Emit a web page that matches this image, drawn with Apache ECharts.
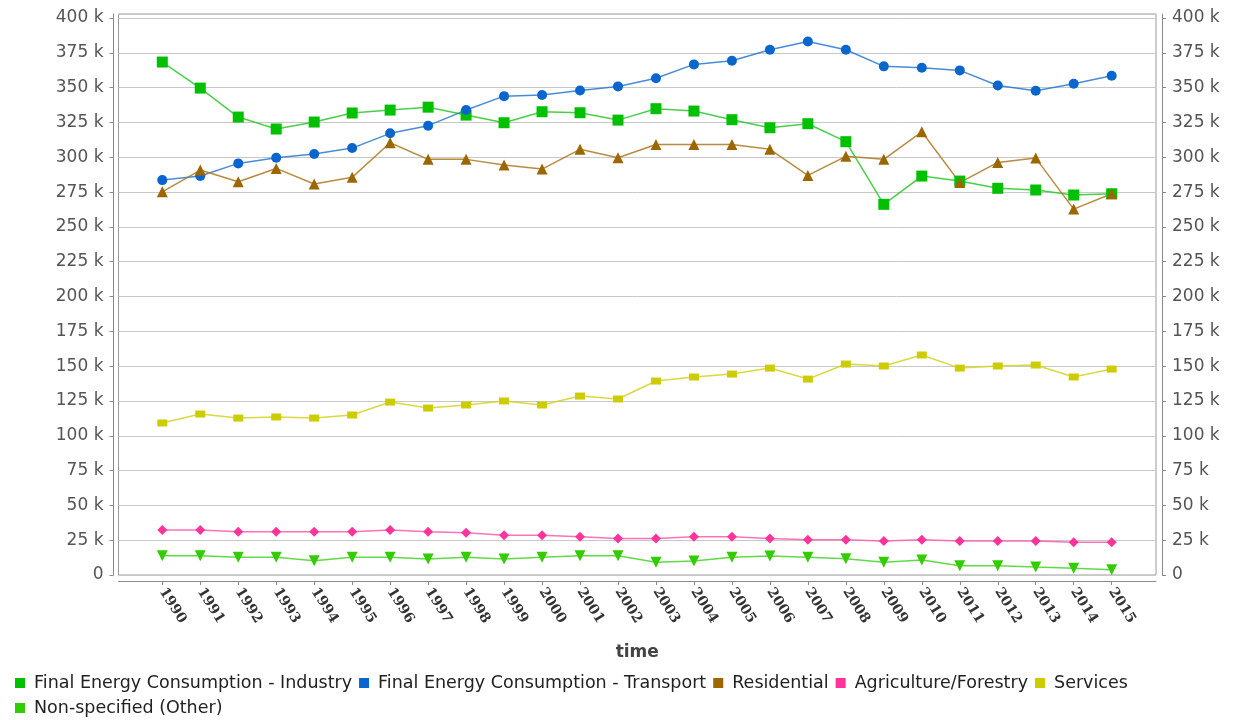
<!DOCTYPE html>
<html>
<head>
<meta charset="utf-8">
<script src="https://cdn.jsdelivr.net/npm/echarts@6/dist/echarts.min.js"></script>
<style>html,body{margin:0;padding:0;background:#fff}#c{width:1233px;height:720px}</style>
</head>
<body>
<div id="c"></div>
<script>
const years = [1990,1991,1992,1993,1994,1995,1996,1997,1998,1999,2000,2001,2002,2003,2004,2005,2006,2007,2008,2009,2010,2011,2012,2013,2014,2015];
const industry = [368400,349700,328900,320300,325300,331800,333900,336000,330300,324800,332700,332000,326700,334900,333200,327000,321200,324100,311200,266200,286500,282900,277700,276500,272900,273800];
const transport = [283600,286500,295600,299700,302300,306600,317200,322700,333900,343900,344700,348000,350900,356700,366700,369300,377200,383200,377200,365300,364300,362400,351600,347800,352800,358600];
const residential = [275200,290800,282400,292000,280800,285600,310400,298500,298500,294400,291500,305700,299700,309200,309200,309200,305700,287000,300700,298500,318300,281800,296300,299400,262800,273800];
const agriculture = [32300,32300,31100,31100,31100,31100,32300,31100,30400,28500,28500,27500,26300,26300,27500,27500,26300,25400,25400,24400,25400,24400,24400,24400,23500,23500];
const services = [109200,115600,112700,113500,112700,114900,124200,119900,122100,125000,122100,128500,126400,139300,142200,144300,148600,140700,151500,150100,158000,148600,150100,150800,142200,147900];
const nonSpecified = [13900,13900,12700,12700,10300,12700,12700,11500,12700,11500,12700,13900,13900,9100,10100,12700,13600,12700,11700,9100,10800,6700,6700,5700,4800,3800];
const seriesNames = ['Final Energy Consumption - Industry','Final Energy Consumption - Transport','Residential','Agriculture/Forestry','Services','Non-specified (Other)'];

const pairs = arr => years.map((y, i) => [y, arr[i]]);
const yFmt = v => v === 0 ? '0' : (v / 1000) + ' k';

function mk(name, data, color, lineColor, symbol, size, rotate) {
  return {
    name, type: 'line', data: pairs(data),
    symbol, symbolSize: size, symbolRotate: rotate || 0,
    itemStyle: { color },
    lineStyle: { color: lineColor, width: 1.5 },
    emphasis: { disabled: true },
    animation: false, z: 3
  };
}

const yAxisCommon = {
  type: 'value', min: 0, max: 402900, interval: 25000,
  axisLine: { show: true, lineStyle: { color: '#8a8a8a', width: 1 } },
  axisTick: { show: true, length: 4, lineStyle: { color: '#8a8a8a' } },
  axisLabel: { formatter: yFmt, color: '#555', fontSize: 17, fontFamily: 'DejaVu Sans', margin: 10, showMaxLabel: false },
  splitLine: { show: true, lineStyle: { color: '#c8c8c8', width: 1 } }
};

const chart = echarts.init(document.getElementById('c'), null, { renderer: 'canvas' });
chart.setOption({
  backgroundColor: '#fff',
  animation: false,
  grid: { left: 118.5, right: 77, top: 14, bottom: 145, show: true, borderColor: '#9a9a9a', borderWidth: 1, backgroundColor: '#fff' },
  xAxis: {
    type: 'value', min: 1988.847, max: 2016.167,
    offset: 6,
    name: 'time', nameLocation: 'middle', nameGap: 63,
    nameTextStyle: { fontFamily: 'DejaVu Sans', fontWeight: 'bold', fontSize: 17, color: '#444' },
    axisLine: { show: true, onZero: false, lineStyle: { color: '#8a8a8a' } },
    axisTick: { show: true, length: 4, customValues: years, lineStyle: { color: '#8a8a8a' } },
    axisLabel: { customValues: years, formatter: v => String(v), rotate: -58, margin: 8, fontFamily: 'DejaVu Serif', fontWeight: 'bold', fontSize: 14, color: '#333' },
    splitLine: { show: false }
  },
  yAxis: [
    Object.assign({}, yAxisCommon, { position: 'left', offset: 5 }),
    Object.assign({}, yAxisCommon, { position: 'right', offset: 6, splitLine: { show: false } })
  ],
  legend: {
    left: 10, top: 669, width: 1165,
    icon: 'rect', itemWidth: 10, itemHeight: 10, itemGap: 7,
    textStyle: { fontFamily: 'DejaVu Sans', fontSize: 17.5, color: '#222', padding: [0, 0, 0, 4] },
    data: seriesNames
  },
  series: [
    mk(seriesNames[0], industry, '#00c000', 'rgba(40,200,40,0.85)', 'rect', 11),
    mk(seriesNames[1], transport, '#0a66cc', 'rgba(40,120,210,0.85)', 'circle', 10),
    mk(seriesNames[2], residential, '#9c6600', 'rgba(170,120,30,0.85)', 'triangle', 11),
    mk(seriesNames[3], agriculture, '#ff3399', 'rgba(255,90,170,0.85)', 'diamond', 10),
    mk(seriesNames[4], services, '#cccc00', 'rgba(210,210,30,0.85)', 'rect', [10, 7]),
    mk(seriesNames[5], nonSpecified, '#33cc00', 'rgba(70,210,40,0.85)', 'triangle', 11, 180)
  ]
});
</script>
</body>
</html>
